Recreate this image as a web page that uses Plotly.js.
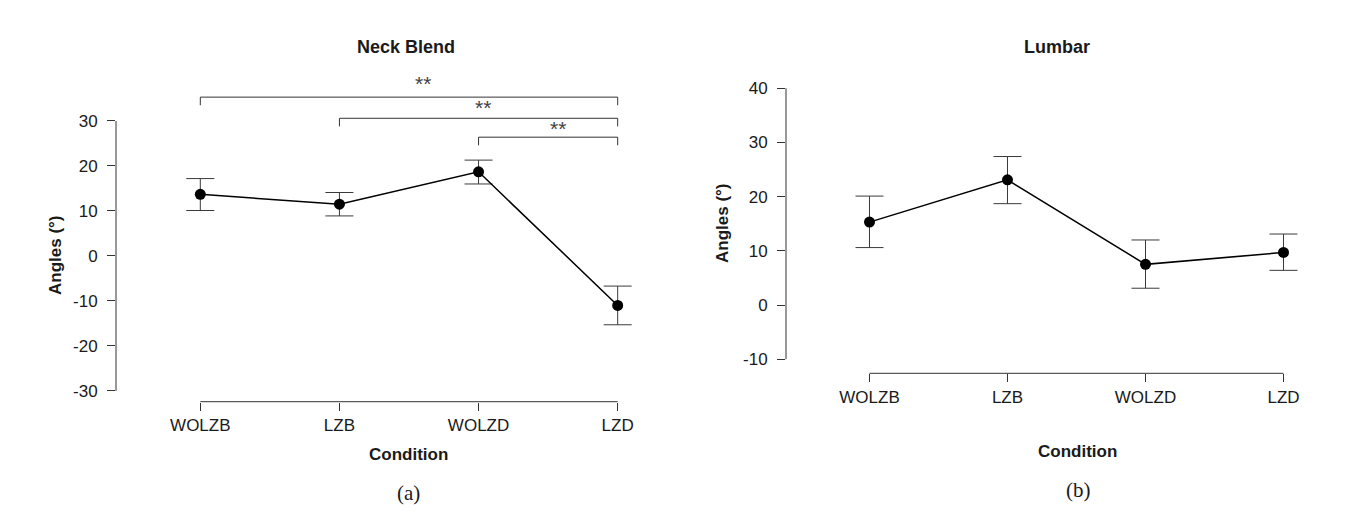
<!DOCTYPE html>
<html>
<head>
<meta charset="utf-8">
<script src="https://cdn.plot.ly/plotly-3.0.1.min.js"></script>
<style>
  html, body { margin: 0; padding: 0; background: #ffffff; }
  #chart { width: 1347px; height: 531px; }
</style>
</head>
<body>
<div id="chart"></div>
<script>
// ---------- data ----------
const conditions = ['WOLZB', 'LZB', 'WOLZD', 'LZD'];

// Panel (a) Neck Blend
const neckMean     = [13.7, 11.5, 18.7, -11.0];
const neckErrPlus  = [3.5, 2.6, 2.6, 4.3];
const neckErrMinus = [3.6, 2.6, 2.7, 4.3];

// Panel (b) Lumbar
const lumbarMean     = [15.3, 23.1, 7.5, 9.7];
const lumbarErrPlus  = [4.8, 4.3, 4.5, 3.4];
const lumbarErrMinus = [4.7, 4.4, 4.4, 3.3];

// Axis ticks
const neckTickVals   = [-30, -20, -10, 0, 10, 20, 30];
const neckTickText   = ['-30', '-20', '-10', '0', '10', '20', '30'];
const lumbarTickVals = [-10, 0, 10, 20, 30, 40];
const lumbarTickText = ['-10', '0', '10', '20', '30', '40'];

// Significance comparisons (panel a)
const sigFrom  = ['WOLZB', 'LZB', 'WOLZD'];
const sigTo    = ['LZD', 'LZD', 'LZD'];
const sigLabel = ['**', '**', '**'];

// ---------- layout helpers ----------
const W = 1347, H = 531;
const px = v => v / W;          // x pixel -> paper
const py = v => 1 - v / H;      // y pixel -> paper

const FONT = '"Liberation Sans", Arial, Helvetica, sans-serif';
const INK = '#1a1a1a';
const AXC = '#333333';

function trace(mean, plus, minus, xa, ya) {
  return {
    type: 'scatter', mode: 'lines+markers',
    x: conditions, y: mean, xaxis: xa, yaxis: ya,
    line: { color: '#000000', width: 1.5 },
    marker: { color: '#000000', size: 11 },
    error_y: { type: 'data', symmetric: false, array: plus, arrayminus: minus,
               color: '#3a3a3a', thickness: 1, width: 14 },
    cliponaxis: false, hoverinfo: 'skip', showlegend: false
  };
}

const xCommon = {
  type: 'category', categoryorder: 'array', categoryarray: conditions,
  showgrid: false, zeroline: false, showline: false,
  ticks: 'outside', ticklen: 8, tickwidth: 1, tickcolor: AXC,
  tickfont: { family: FONT, size: 17, color: INK },
  fixedrange: true
};
const yCommon = {
  showgrid: false, zeroline: false, showline: false,
  ticks: 'outside', ticklen: 8, tickwidth: 1, tickcolor: AXC,
  tickfont: { family: FONT, size: 17, color: INK },
  ticklabelstandoff: 6,
  fixedrange: true
};

// domains measured in pixels
const A = { x0: 116, x1: 645.5, yTop: 71.5, yBot: 401.7, yMin: -32.4, yMax: 41 };
const B = { x0: 786, x1: 1311.1, yTop: 77.4, yBot: 373.3, yMin: -12.6, yMax: 42 };

const layout = {
  width: W, height: H,
  margin: { l: 0, r: 0, t: 0, b: 0 },
  paper_bgcolor: '#ffffff', plot_bgcolor: 'rgba(0,0,0,0)',
  font: { family: FONT, color: INK },
  showlegend: false,
  xaxis: Object.assign({}, xCommon, { domain: [px(A.x0), px(A.x1)], range: [-0.606, 3.2], anchor: 'y' }),
  yaxis: Object.assign({}, yCommon, { domain: [py(A.yBot), py(A.yTop)], range: [A.yMin, A.yMax],
                                      tickvals: neckTickVals, ticktext: neckTickText, anchor: 'x' }),
  xaxis2: Object.assign({}, xCommon, { domain: [px(B.x0), px(B.x1)], range: [-0.605, 3.2], anchor: 'y2' }),
  yaxis2: Object.assign({}, yCommon, { domain: [py(B.yBot), py(B.yTop)], range: [B.yMin, B.yMax],
                                       tickvals: lumbarTickVals, ticktext: lumbarTickText, anchor: 'x2' }),
  shapes: [],
  annotations: []
};

// R-style detached axis lines
function axisLines(xref, yref, xPaper, yPaper, ticks) {
  layout.shapes.push({ type: 'line', xref: 'paper', yref: yref,
    x0: xPaper, x1: xPaper, y0: ticks[0], y1: ticks[ticks.length - 1],
    line: { color: AXC, width: 1 } });
  layout.shapes.push({ type: 'line', xref: xref, yref: 'paper',
    x0: 0, x1: conditions.length - 1, y0: yPaper, y1: yPaper,
    line: { color: AXC, width: 1 } });
}
axisLines('x', 'y', px(A.x0), py(A.yBot), neckTickVals);
axisLines('x2', 'y2', px(B.x0), py(B.yBot), lumbarTickVals);

// significance brackets (panel a)
const bracketY = [35.3, 30.6, 26.4];
const bracketDrop = 1.8;
const starX = [1.60, 2.03, 2.57];
const starY = [38.4, 32.9, 28.4];
sigFrom.forEach((f, i) => {
  const a = conditions.indexOf(f), b = conditions.indexOf(sigTo[i]);
  const y = bracketY[i];
  layout.shapes.push({ type: 'path', xref: 'x', yref: 'y',
    path: `M ${a} ${y - bracketDrop} L ${a} ${y} L ${b} ${y} L ${b} ${y - bracketDrop}`,
    line: { color: AXC, width: 1 } });
  layout.annotations.push({ xref: 'x', yref: 'y', x: starX[i], y: starY[i],
    text: sigLabel[i], showarrow: false, xanchor: 'center', yanchor: 'middle',
    font: { family: FONT, size: 21, color: '#444444' } });
});

// text labels
function label(text, x, y, size, bold, angle, family) {
  layout.annotations.push({ xref: 'paper', yref: 'paper', x: px(x), y: py(y),
    text: bold ? '<b>' + text + '</b>' : text, showarrow: false,
    xanchor: 'center', yanchor: 'middle', textangle: angle || 0,
    font: { family: family || FONT, size: size, color: INK } });
}
label('Neck Blend', 406, 47, 18, true);
label('Lumbar', 1057, 47, 18, true);
label('Angles (°)', 55, 255, 17, true, -90);
label('Angles (°)', 723, 223, 17, true, -90);
label('Condition', 408, 454, 17, true);
label('Condition', 1077, 451, 17, true);
label('(a)', 408, 493, 21, false, 0, '"Liberation Serif", "Times New Roman", serif');
label('(b)', 1078, 490, 21, false, 0, '"Liberation Serif", "Times New Roman", serif');

const data = [
  trace(neckMean, neckErrPlus, neckErrMinus, 'x', 'y'),
  trace(lumbarMean, lumbarErrPlus, lumbarErrMinus, 'x2', 'y2')
];

Plotly.newPlot('chart', data, layout, { displayModeBar: false, staticPlot: true });
</script>
</body>
</html>
